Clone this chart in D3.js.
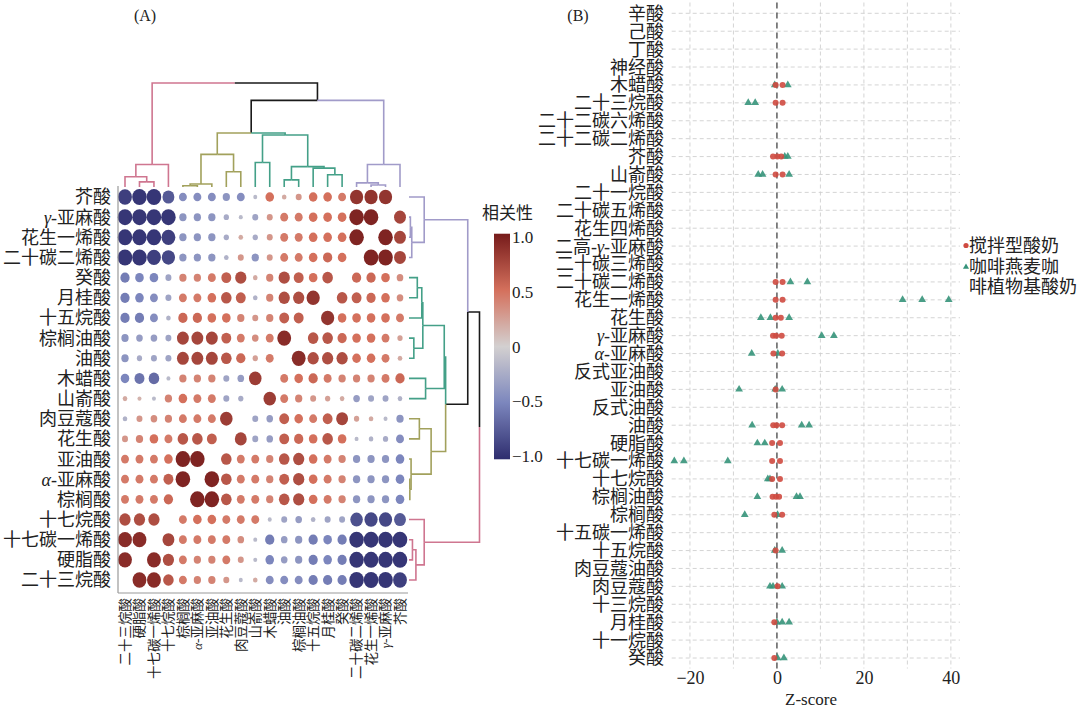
<!DOCTYPE html>
<html><head><meta charset="utf-8">
<script src="https://cdn.jsdelivr.net/npm/d3@7"></script>
<style>
body{margin:0;background:#fff}
text{font-family:"Liberation Serif","Noto Sans CJK SC",serif;fill:#222}
</style>
</head><body>
<svg id="c" width="1080" height="708"></svg>
<script>
// ---------------- DATA ----------------
// Panel A: rows (top -> bottom); columns are the same acids in reverse order
const acids = ["芥酸","γ-亚麻酸","花生一烯酸","二十碳二烯酸","癸酸","月桂酸","十五烷酸","棕榈油酸","油酸","木蜡酸","山嵛酸","肉豆蔻酸","花生酸","亚油酸","α-亚麻酸","棕榈酸","十七烷酸","十七碳一烯酸","硬脂酸","二十三烷酸"];
const colAcids = acids.slice().reverse();
// correlation read row by row (column order = colAcids); null = diagonal (not drawn)
const corrRows = [
 [-0.9,-0.95,-0.95,-0.75,-0.45,-0.45,-0.45,-0.4,-0.45,-0.15,0.5,0.2,0.3,0.5,0.5,0.45,0.85,0.85,0.85,null],
 [-0.95,-0.95,-0.95,-0.95,-0.4,-0.4,-0.4,-0.25,-0.15,-0.3,0.3,0.45,0.45,0.5,0.5,0.5,0.95,0.95,null,0.75],
 [-0.95,-0.95,-0.95,-0.9,-0.4,-0.4,-0.4,-0.25,0.2,-0.25,0.3,0.45,0.45,0.5,0.5,0.5,0.95,null,0.95,0.75],
 [-0.95,-0.95,-0.9,-0.85,-0.4,-0.4,-0.4,-0.2,0.3,-0.4,0.3,0.45,0.45,0.5,0.55,0.5,null,0.95,0.95,0.75],
 [-0.55,-0.5,-0.5,-0.3,0.4,0.4,0.45,0.6,0.7,0.2,0.4,0.7,0.6,0.5,0.65,null,0.55,0.55,0.5,0.35],
 [-0.55,-0.5,-0.45,-0.3,0.45,0.45,0.5,0.65,0.6,-0.2,0.4,0.7,0.7,0.85,null,0.65,0.6,0.55,0.5,0.35],
 [-0.55,-0.55,-0.45,-0.2,0.55,0.55,0.5,0.5,0.4,0.3,0.4,0.6,0.6,null,0.85,0.5,0.5,0.5,0.5,0.45],
 [-0.4,-0.35,-0.35,-0.3,0.75,0.75,0.75,0.6,0.45,0.35,0.45,0.9,null,0.65,0.65,0.55,0.5,0.5,0.45,0.25],
 [-0.4,-0.25,-0.3,-0.3,0.75,0.75,0.75,0.65,0.55,0.25,0.45,null,0.9,0.7,0.7,0.7,0.5,0.5,0.45,0.2],
 [-0.5,-0.6,-0.65,-0.15,0.4,0.4,0.4,-0.3,-0.35,0.8,null,0.45,0.5,0.55,0.45,0.4,0.4,0.4,0.45,0.55],
 [0.2,0.15,-0.15,0.4,0.5,0.45,0.45,-0.3,-0.25,null,0.8,0.45,0.4,0.3,0.25,0.2,-0.35,-0.3,-0.3,-0.2],
 [-0.2,0.3,0.35,0.4,0.45,0.45,0.45,0.8,null,-0.3,-0.35,0.6,0.5,0.45,0.6,0.75,0.25,0.2,-0.15,-0.4],
 [0.3,0.4,0.5,0.45,0.65,0.65,0.6,null,0.75,-0.3,-0.35,0.6,0.55,0.5,0.65,0.5,-0.15,-0.2,-0.25,-0.45],
 [0.45,0.45,0.45,0.5,0.95,0.95,null,0.65,0.45,0.45,0.4,0.65,0.7,0.5,0.45,0.4,-0.4,-0.4,-0.4,-0.5],
 [0.45,0.45,0.45,0.6,0.95,null,0.95,0.65,0.45,0.45,0.4,0.6,0.7,0.5,0.45,0.4,-0.4,-0.4,-0.4,-0.5],
 [0.45,0.45,0.45,0.55,null,0.95,0.95,0.65,0.45,0.45,0.4,0.65,0.7,0.5,0.45,0.4,-0.4,-0.4,-0.4,-0.5],
 [0.7,0.7,0.7,null,0.45,0.5,0.5,0.45,0.45,0.45,-0.15,-0.3,-0.35,-0.2,-0.3,-0.3,-0.8,-0.85,-0.85,-0.75],
 [0.9,0.9,null,0.75,0.45,0.45,0.45,0.45,0.35,-0.15,-0.55,-0.35,-0.4,-0.55,-0.5,-0.55,-0.95,-0.95,-0.95,-0.95],
 [0.9,null,0.9,0.7,0.45,0.4,0.4,0.45,0.3,-0.15,-0.5,-0.35,-0.4,-0.55,-0.5,-0.55,-0.95,-0.95,-0.95,-0.95],
 [null,0.9,0.9,0.65,0.45,0.4,0.4,0.3,-0.15,0.2,-0.45,-0.45,-0.45,-0.55,-0.55,-0.55,-0.95,-0.95,-0.95,-0.9]
];
// hierarchical clustering of the columns (leaves = column index), h = merge height
const dendrogram = {h:10.2, c:[
  {h:2.2, cl:"pink", c:[{h:1.0, c:[0,{h:0.5, c:[1,2]}]}, 3]},
  {h:8.5, c:[
    {h:5.3, c:[
      {h:3.2, cl:"olive", c:[{h:0.3, c:[{h:0.12, c:[4,5]},6]}, {h:1.5, c:[7,8]}]},
      {h:5.1, cl:"green", c:[{h:2.4, c:[9,10]}, {h:2.0, c:[{h:0.7, c:[11,12]}, {h:1.85, c:[13,{h:1.2, c:[14,15]}]}]}]}
    ]},
    {h:2.2, cl:"purple", c:[{h:0.4, c:[16,{h:0.2, c:[17,18]}]}, 19]}
  ]}
]};
const colorbarTicks = [1.0, 0.5, 0, -0.5, -1.0];

// Panel B
const zRows = ["辛酸","己酸","丁酸","神经酸","木蜡酸","二十三烷酸","二十二碳六烯酸","二十二碳二烯酸","芥酸","山嵛酸","二十一烷酸","二十碳五烯酸","花生四烯酸","二高-γ-亚麻酸","二十碳三烯酸","二十碳二烯酸","花生一烯酸","花生酸","γ-亚麻酸","α-亚麻酸","反式亚油酸","亚油酸","反式油酸","油酸","硬脂酸","十七碳一烯酸","十七烷酸","棕榈油酸","棕榈酸","十五碳一烯酸","十五烷酸","肉豆蔻油酸","肉豆蔻酸","十三烷酸","月桂酸","十一烷酸","癸酸"];
const stirredZ = [[],[],[],[],[-0.3,1.3],[-0.3,1.3],[],[],[-0.9,0.1,1.0],[-0.3,1.3],[],[],[],[],[],[-0.3,1.3],[-0.3,1.3],[-0.3,0.9],[-0.9,-0.2,1.1],[-0.8,1.2],[],[-0.3],[],[-0.85,-0.1,1.2],[-1.1,0.7],[-1.1,0.7],[-1.1,0.7],[-1.0,-0.2,0.5],[-0.6,1.2],[],[-0.3],[],[0.15],[],[-0.6],[],[-0.6]];
const plantZ = [[],[],[],[],[-0.5,2.5],[-6.6,-5.0],[],[],[1.8,2.5],[-4.3,-3.3,2.8],[],[],[],[],[],[3.1,7.0],[28.9,33.4,39.5],[-3.7,-1.5,2.8],[10.3,13.1],[-5.8,0.2],[],[-8.7,-0.4,1.2],[],[-5.7,5.7,7.4],[-4.5,-2.8],[-23.6,-21.4,-11.3],[-2.1,-1.6],[-4.5,4.5,5.3],[-7.4,0.15],[],[-0.5,1.2],[],[-1.6,-0.9,1.2],[],[0.0,1.2,2.8],[],[0.15,1.6]];
const zTicks = [-20, 0, 20, 40];
const zGrid = [-20, -10, 10, 20, 30, 40];
const groups = ["搅拌型酸奶", "咖啡燕麦咖啡植物基酸奶"];

// ---------------- DRAW ----------------
const svg = d3.select("#c");
function rich(t, s) {
  s.split(/([αγ])/).filter(d => d).forEach(seg => {
    t.append("tspan").text(seg).attr("font-style", /[αγ]/.test(seg) ? "italic" : null);
  });
}

// ===== Panel A =====
const xA = d3.scalePoint().domain(d3.range(20)).range([125, 400]);
const yA = d3.scalePoint().domain(d3.range(20)).range([197, 580]);
const xPos = d3.scaleLinear().domain([0, 19]).range([125, 400]);
const yPos = d3.scaleLinear().domain([0, 19]).range([580, 197]);
const color = d3.scaleLinear().domain([-1, -0.5, 0, 0.5, 1])
  .range(["#2e2d6e", "#7c86bd", "#d3d0d0", "#d4705c", "#761b1b"]);
const rS = d3.scaleLinear().domain([0, 1]).range([1.0, 7.6]);

svg.append("text").attr("x", 145).attr("y", 21).attr("text-anchor", "middle")
  .attr("font-size", 16).text("(A)");

const cells = [];
corrRows.forEach((row, r) => row.forEach((v, c) => { if (v !== null) cells.push({r, c, v}); }));
svg.append("g").selectAll("ellipse").data(cells).join("ellipse")
  .attr("cx", d => xA(d.c)).attr("cy", d => yA(d.r))
  .attr("rx", d => rS(Math.abs(d.v))).attr("ry", d => rS(Math.abs(d.v)) * 1.1)
  .attr("fill", d => color(d.v));

// axis lines
svg.append("line").attr("x1", 118).attr("x2", 118).attr("y1", 186).attr("y2", 593)
  .attr("stroke", "#999").attr("stroke-width", 1.2);
svg.append("line").attr("x1", 118).attr("x2", 408).attr("y1", 593).attr("y2", 593)
  .attr("stroke", "#999").attr("stroke-width", 1.2);

// row labels
acids.forEach((a, r) => {
  const t = svg.append("text").attr("x", 111).attr("y", yA(r)).attr("dy", "0.36em")
    .attr("text-anchor", "end").attr("font-size", 18);
  rich(t, a);
});
// column labels
colAcids.forEach((a, c) => {
  const t = svg.append("text").attr("transform", `translate(${xA(c)},598) rotate(-90)`)
    .attr("dy", "0.36em").attr("text-anchor", "end").attr("font-size", 13.5);
  rich(t, a);
});

// dendrograms
const clusterColors = {pink: "#cf7690", olive: "#a2a15c", green: "#44a088", purple: "#a19bc9"};
function layout(node, inherited) {
  if (typeof node === "number") return {pos: node, h: 0, col: inherited || "#1a1a1a"};
  const col = node.cl ? clusterColors[node.cl] : (inherited || "#1a1a1a");
  const kids = node.c.map(k => layout(k, node.cl ? col : inherited));
  return {pos: (kids[0].pos + kids[1].pos) / 2, h: node.h, kids, col};
}
const tree = layout(dendrogram, null);
const edges = [];
(function walk(n) {
  if (!n.kids) return;
  n.kids.forEach(k => { edges.push({p: n, k}); walk(k); });
})(tree);
const hTop = d3.scaleLinear().domain([0, 10.2]).range([187, 83]);
const hRight = d3.scaleLinear().domain([0, 10.2]).range([409, 479.5]);
svg.append("g").selectAll("path").data(edges).join("path")
  .attr("d", e => `M${xPos(e.p.pos)},${hTop(e.p.h)}H${xPos(e.k.pos)}V${hTop(e.k.h)}`)
  .attr("fill", "none").attr("stroke", e => e.k.col).attr("stroke-width", 1.6);
svg.append("g").selectAll("path").data(edges).join("path")
  .attr("d", e => `M${hRight(e.p.h)},${yPos(e.p.pos)}V${yPos(e.k.pos)}H${hRight(e.k.h)}`)
  .attr("fill", "none").attr("stroke", e => e.k.col).attr("stroke-width", 1.6);

// colour bar
const defs = svg.append("defs");
const grad = defs.append("linearGradient").attr("id", "cb").attr("x1", 0).attr("x2", 0).attr("y1", 1).attr("y2", 0);
d3.range(0, 1.0001, 0.05).forEach(t => grad.append("stop")
  .attr("offset", t).attr("stop-color", color(-1 + 2 * t)));
const cbY = d3.scaleLinear().domain([-1, 1]).range([456, 237]);
svg.append("rect").attr("x", 494).attr("y", cbY(1.03)).attr("width", 16)
  .attr("height", cbY(-1.03) - cbY(1.03)).attr("fill", "url(#cb)");
svg.append("text").attr("x", 482).attr("y", 219).attr("font-size", 17).text("相关性");
svg.append("g").selectAll("text").data(colorbarTicks).join("text")
  .attr("x", 512).attr("y", d => cbY(d)).attr("dy", "0.36em").attr("font-size", 17)
  .text(d => d === 0 ? "0" : d3.format(".1f")(d));

// ===== Panel B =====
const xB = d3.scaleLinear().domain([-24.2, 42.1]).range([671.7, 960]);
const yB = d3.scalePoint().domain(zRows).range([13.3, 658]);
const panelTop = 2.5, panelBottom = 668.5;
svg.append("text").attr("x", 578).attr("y", 21).attr("text-anchor", "middle")
  .attr("font-size", 16).text("(B)");
const gB = svg.append("g");
gB.selectAll("line.h").data(zRows).join("line").attr("class", "h")
  .attr("x1", xB.range()[0]).attr("x2", xB.range()[1])
  .attr("y1", d => yB(d)).attr("y2", d => yB(d))
  .attr("stroke", "#cfcfcf").attr("stroke-width", 0.9).attr("stroke-dasharray", "4,3");
gB.selectAll("line.v").data(zGrid).join("line").attr("class", "v")
  .attr("x1", d => xB(d)).attr("x2", d => xB(d)).attr("y1", panelTop).attr("y2", panelBottom)
  .attr("stroke", "#cfcfcf").attr("stroke-width", 0.9).attr("stroke-dasharray", "4,3");
gB.append("line").attr("x1", xB(0)).attr("x2", xB(0)).attr("y1", panelTop).attr("y2", panelBottom)
  .attr("stroke", "#444").attr("stroke-width", 1.3).attr("stroke-dasharray", "6,4");

zRows.forEach(name => {
  const t = svg.append("text").attr("x", 664).attr("y", yB(name)).attr("dy", "0.36em")
    .attr("text-anchor", "end").attr("font-size", 18);
  rich(t, name);
});

const redPts = [], greenPts = [];
zRows.forEach((name, i) => {
  stirredZ[i].forEach(z => redPts.push({name, z}));
  plantZ[i].forEach(z => greenPts.push({name, z}));
});
const redCol = "#cf4a40", greenCol = "#36937a";
const tri = d3.symbol().type(d3.symbolTriangle).size(26);
gB.selectAll("path.g").data(greenPts).join("path").attr("class", "g")
  .attr("d", tri).attr("transform", d => `translate(${xB(d.z)},${yB(d.name)})`)
  .attr("fill", greenCol).attr("fill-opacity", 0.9);
gB.selectAll("circle").data(redPts).join("circle")
  .attr("cx", d => xB(d.z)).attr("cy", d => yB(d.name)).attr("r", 3)
  .attr("fill", redCol).attr("fill-opacity", 0.9);

const ax = svg.append("g").attr("transform", `translate(0,${panelBottom})`)
  .call(d3.axisBottom(xB).tickValues(zTicks).tickSize(0).tickPadding(3));
ax.select(".domain").remove();
ax.selectAll("text").attr("font-size", 18).attr("fill", "#222")
  .style("font-family", '"Liberation Serif",serif');
svg.append("text").attr("x", 811).attr("y", 705).attr("text-anchor", "middle")
  .attr("font-size", 17).text("Z-score");

// legend
svg.append("circle").attr("cx", 966).attr("cy", 245.5).attr("r", 2.6).attr("fill", redCol);
svg.append("text").attr("x", 969).attr("y", 245.5).attr("dy", "0.36em").attr("font-size", 18).text(groups[0]);
svg.append("path").attr("d", d3.symbol().type(d3.symbolTriangle).size(16))
  .attr("transform", "translate(966,267)").attr("fill", greenCol);
svg.append("text").attr("x", 969).attr("y", 267).attr("dy", "0.36em").attr("font-size", 18).text(groups[1].slice(0, 5));
svg.append("text").attr("x", 969).attr("y", 287).attr("dy", "0.36em").attr("font-size", 18).text(groups[1].slice(5));
</script>
</body></html>
